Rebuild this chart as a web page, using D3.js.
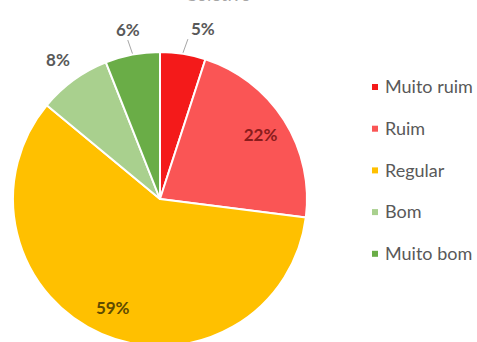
<!DOCTYPE html>
<html>
<head>
<meta charset="utf-8">
<script src="https://cdn.jsdelivr.net/npm/d3@7"></script>
<style>
  html, body { margin: 0; padding: 0; background: #fff; }
  svg { display: block; }
</style>
</head>
<body>
<svg id="chart" width="477" height="342"></svg>
<script>
// Rating categories and their share of answers (%)
const categories = ["Muito ruim", "Ruim", "Regular", "Bom", "Muito bom"];
const values = [5, 22, 59, 8, 6];
const colors = ["#f41a1a", "#fa5555", "#ffc000", "#a9d08e", "#6aad47"];
const labelColors = ["#595959", "#8a1c1c", "#5e4b00", "#595959", "#595959"];
const chartTitle = "Coletivo";

const W = 477, H = 342;
const cx = 160, cy = 199, R = 147;
const svg = d3.select("#chart");

const data = categories.map((c, i) => ({ cat: c, value: values[i], color: colors[i], lc: labelColors[i] }));

const pie = d3.pie().value(d => d.value).sort(null);
const arcs = pie(data);
const arc = d3.arc().innerRadius(0).outerRadius(R);
const edgeArc = d3.arc().innerRadius(R).outerRadius(R);
const inArc = d3.arc().innerRadius(R * 0.81).outerRadius(R * 0.81);
const outArc = d3.arc().innerRadius(172).outerRadius(172);

// title, sitting mostly above the top edge
svg.append("text")
  .attr("x", 218).attr("y", 1)
  .attr("text-anchor", "middle")
  .attr("font-family", "Lato, sans-serif")
  .attr("font-size", 18)
  .attr("fill", "#a6a6a6")
  .text(chartTitle);

const g = svg.append("g").attr("transform", `translate(${cx},${cy})`);

g.selectAll("path.slice")
  .data(arcs)
  .join("path")
  .attr("class", "slice")
  .attr("d", arc)
  .attr("fill", d => d.data.color)
  .attr("stroke", "#fff")
  .attr("stroke-width", 2)
  .attr("stroke-linejoin", "round");

// small slices get their label outside the pie
const isOutside = d => d.data.value < 10;
// horizontal nudge for outside labels that would crowd each other
const nudgeX = { "Muito ruim": 16, "Muito bom": 0, "Bom": -1 };

function labelPos(d) {
  if (!isOutside(d)) return inArc.centroid(d);
  const p = outArc.centroid(d);
  return [p[0] + (nudgeX[d.data.cat] || 0), p[1]];
}

// leader lines for the two top labels
g.selectAll("line.leader")
  .data(arcs.filter(d => isOutside(d) && d.data.cat !== "Bom"))
  .join("line")
  .attr("class", "leader")
  .attr("x1", d => edgeArc.centroid(d)[0])
  .attr("y1", d => edgeArc.centroid(d)[1] - 1)
  .attr("x2", d => { const p = labelPos(d); return d.data.cat === "Muito ruim" ? p[0] - 15 : p[0]; })
  .attr("y2", d => labelPos(d)[1] + 10)
  .attr("stroke", "#a6a6a6")
  .attr("stroke-width", 1);

g.selectAll("text.pct")
  .data(arcs)
  .join("text")
  .attr("class", "pct")
  .attr("x", d => labelPos(d)[0])
  .attr("y", d => labelPos(d)[1])
  .attr("dy", "0.35em")
  .attr("text-anchor", "middle")
  .attr("font-family", "Lato, sans-serif")
  .attr("font-weight", 700)
  .attr("font-size", 17)
  .attr("fill", d => d.data.lc)
  .text(d => d.data.value + "%");

// legend
const legend = svg.append("g").attr("transform", "translate(372,87)");
const rows = legend.selectAll("g.row")
  .data(data)
  .join("g")
  .attr("class", "row")
  .attr("transform", (d, i) => `translate(0,${i * 41.7})`);
rows.append("rect")
  .attr("x", 0).attr("y", -3)
  .attr("width", 6).attr("height", 6)
  .attr("fill", d => d.color);
rows.append("text")
  .attr("x", 13).attr("y", 0)
  .attr("dy", "0.35em")
  .attr("font-family", "Lato, sans-serif")
  .attr("font-size", 18)
  .attr("fill", "#595959")
  .text(d => d.cat);
</script>
</body>
</html>
